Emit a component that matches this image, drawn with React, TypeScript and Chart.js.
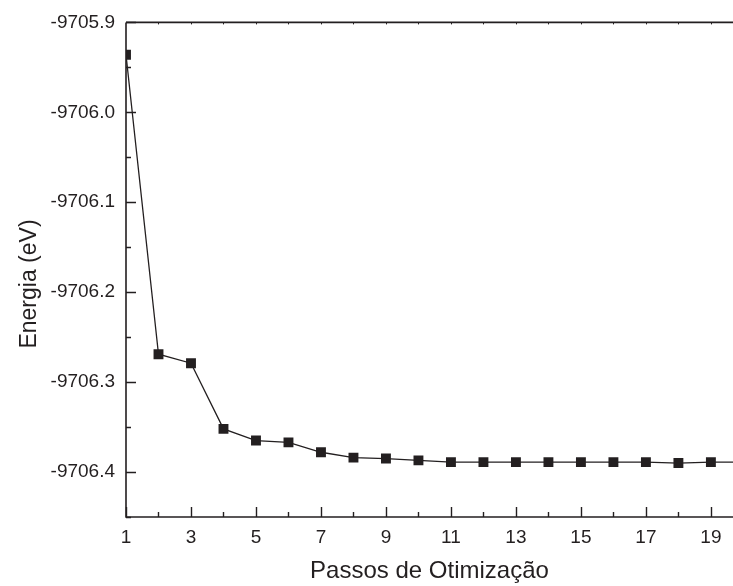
import React, { useEffect, useRef } from "react";
import { Chart, registerables } from "chart.js";

Chart.register(...registerables);

const steps = [1, 2, 3, 4, 5, 6, 7, 8, 9, 10, 11, 12, 13, 14, 15, 16, 17, 18, 19, 20];
const energies = [
  -9705.936, -9706.269, -9706.279, -9706.352, -9706.365, -9706.367, -9706.378,
  -9706.384, -9706.385, -9706.387, -9706.389, -9706.389, -9706.389, -9706.389,
  -9706.389, -9706.389, -9706.389, -9706.390, -9706.389, -9706.389,
];
const xMin = 1;
const xMax = 19.68;
const yMin = -9706.45;
const yMax = -9705.9;
const xMajorTicks = [1, 3, 5, 7, 9, 11, 13, 15, 17, 19];
const xMinorTicks = [2, 4, 6, 8, 10, 12, 14, 16, 18];
const yMajorTicks = [-9706.4, -9706.3, -9706.2, -9706.1, -9706.0, -9705.9];
const yMinorTicks = [-9706.45, -9706.35, -9706.25, -9706.15, -9706.05, -9705.95];
const topTicks = [2, 3, 4, 5, 6, 7, 8, 9, 10, 11, 12, 13, 14, 15, 16, 17, 18, 19];
const yTitle = "Energia (eV)";
const xTitle = "Passos de Otimização";

const INK = "#231f20";
const FONT = "'Liberation Sans', Arial, sans-serif";

const axesPlugin = {
  id: "inwardAxes",
  afterDatasetsDraw(chart: any) {
    const { ctx, chartArea, scales } = chart;
    const { left, right, top, bottom } = chartArea;
    const x = scales.x;
    const y = scales.y;
    ctx.save();
    ctx.strokeStyle = INK;
    ctx.lineWidth = 1.6;
    ctx.beginPath();
    ctx.moveTo(left, top);
    ctx.lineTo(right, top);
    ctx.moveTo(left, top);
    ctx.lineTo(left, bottom);
    ctx.lineTo(right, bottom);
    ctx.stroke();
    ctx.lineWidth = 1.4;
    ctx.beginPath();
    for (const v of xMajorTicks) {
      const px = Math.round(x.getPixelForValue(v)) + 0.5;
      ctx.moveTo(px, bottom);
      ctx.lineTo(px, bottom - 10);
    }
    for (const v of xMinorTicks) {
      const px = Math.round(x.getPixelForValue(v)) + 0.5;
      ctx.moveTo(px, bottom);
      ctx.lineTo(px, bottom - 5);
    }
    for (const v of yMajorTicks) {
      const py = Math.round(y.getPixelForValue(v)) + 0.5;
      ctx.moveTo(left, py);
      ctx.lineTo(left + 10, py);
    }
    for (const v of yMinorTicks) {
      const py = Math.round(y.getPixelForValue(v)) + 0.5;
      ctx.moveTo(left, py);
      ctx.lineTo(left + 5, py);
    }
    ctx.stroke();
    ctx.lineWidth = 1;
    ctx.beginPath();
    for (const v of topTicks) {
      const px = Math.round(x.getPixelForValue(v)) + 0.5;
      ctx.moveTo(px, top);
      ctx.lineTo(px, top + 2);
    }
    ctx.stroke();
    // y axis title
    ctx.fillStyle = INK;
    ctx.font = `23px ${FONT}`;
    ctx.textAlign = "center";
    ctx.textBaseline = "middle";
    ctx.translate(30, 284);
    ctx.rotate(-Math.PI / 2);
    ctx.fillText(yTitle, 0, 0);
    ctx.restore();
  },
};

export default function App() {
  const ref = useRef<HTMLCanvasElement>(null);
  useEffect(() => {
    document.body.style.margin = "0";
    const chart = new Chart(ref.current as HTMLCanvasElement, {
      type: "line",
      data: {
        datasets: [
          {
            data: steps.map((s, i) => ({ x: s, y: energies[i] })),
            borderColor: INK,
            borderWidth: 1.3,
            backgroundColor: INK,
            pointStyle: "rect",
            pointRadius: 7,
            pointBorderWidth: 0,
            pointBackgroundColor: INK,
            tension: 0,
            clip: 0,
          } as any,
        ],
      },
      options: {
        animation: false,
        responsive: false,
        layout: { autoPadding: false, padding: { top: 21, right: 0, left: 0, bottom: 0 } },
        plugins: { legend: { display: false }, tooltip: { enabled: false } },
        scales: {
          x: {
            type: "linear",
            min: xMin,
            max: xMax,
            grid: { display: false, drawTicks: true, tickLength: 9 },
            border: { display: false },
            afterBuildTicks: (s: any) => {
              s.ticks = [...xMajorTicks, xMax].map((v) => ({ value: v }));
            },
            afterFit: (s: any) => {
              s.height = 69;
            },
            ticks: {
              color: INK,
              font: { family: FONT, size: 19 },
              padding: 0,
              maxRotation: 0,
              autoSkip: false,
              callback: (v: any) => (xMajorTicks.includes(v) ? String(v) : ""),
            },
            title: {
              display: true,
              text: xTitle,
              color: INK,
              font: { family: FONT, size: 24 },
              padding: { top: 0, bottom: 0 },
            },
          },
          y: {
            type: "linear",
            min: yMin,
            max: yMax,
            grid: { display: false, drawTicks: false },
            border: { display: false },
            afterBuildTicks: (s: any) => {
              s.ticks = yMajorTicks.map((v) => ({ value: v }));
            },
            afterFit: (s: any) => {
              s.width = 126;
            },
            ticks: {
              color: INK,
              font: { family: FONT, size: 19 },
              padding: 11,
              autoSkip: false,
              callback: (v: any) => Number(v).toFixed(1),
            },
          },
        },
      },
      plugins: [axesPlugin],
    });
    return () => chart.destroy();
  }, []);
  return (
    <div style={{ position: "absolute", left: 0, top: 0, width: 733, height: 586, background: "#fff", overflow: "hidden" }}>
      <canvas ref={ref} width={733} height={586} />
    </div>
  );
}
